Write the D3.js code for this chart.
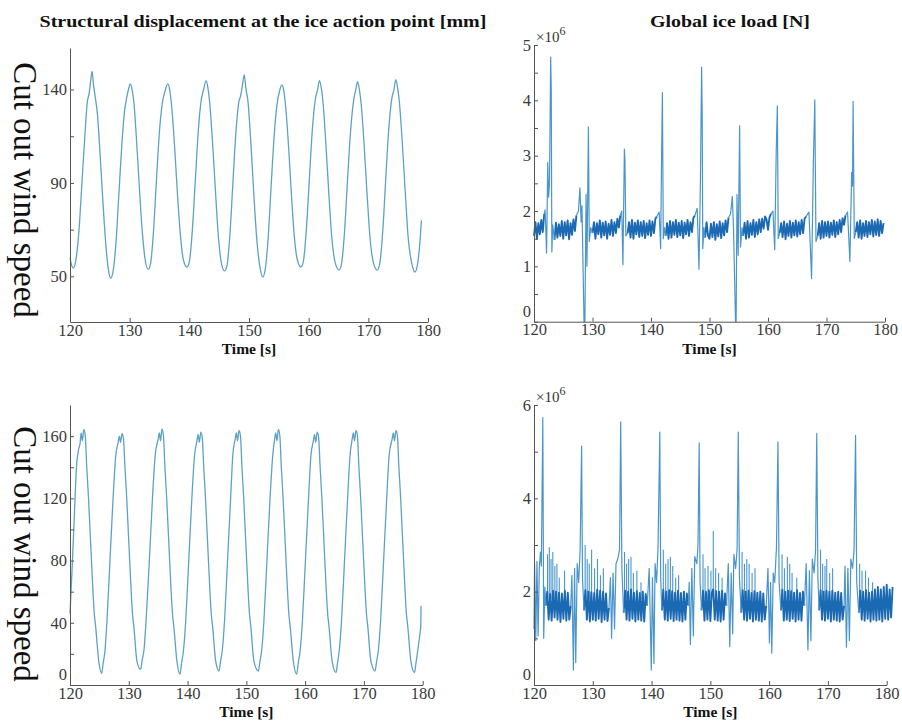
<!DOCTYPE html>
<html>
<head>
<meta charset="utf-8">
<script src="https://cdn.jsdelivr.net/npm/d3@7"></script>
<style>
  body { margin: 0; background: #fff; }
  svg { display: block; }
  text { font-family: "Liberation Serif", "Times New Roman", serif; }
</style>
</head>
<body>
<svg id="chart" width="902" height="721"></svg>
<script>
// ---- axis ticks / labels ----
const timeTicks = [120, 130, 140, 150, 160, 170, 180];
const dispTopTicks = [50, 72.5, 95, 117.5, 140];
const dispTopLabels = ["50", "", "90", "", "140"];
const dispBotTicks = [0, 20, 40, 60, 80, 100, 120, 140, 160];
const dispBotLabels = ["0", "", "40", "", "80", "", "120", "", "160"];
const loadTopTicks = [0, 0.5, 1, 1.5, 2, 2.5, 3, 3.5, 4, 4.5, 5];
const loadTopLabels = ["0", "", "1", "", "2", "", "3", "", "4", "", "5"];
const loadBotTicks = [0, 1, 2, 3, 4, 5, 6];
const loadBotLabels = ["0", "", "2", "", "4", "", "6"];

// ---- structural displacement [mm], [time s, value] ----
const dispTop = [
  [120.0,59],[120.3,55],[120.6,54],[121.0,58],[121.5,72],[122.0,95],[122.5,118],[122.9,134],[123.2,138],[123.5,145],[123.7,148.7],
  [123.95,142],[124.2,137],[124.6,128],[125.1,106],[125.6,82],[126.1,62],[126.5,52],[126.8,49],
  [127.2,52],[127.7,66],[128.2,90],[128.7,114],[129.2,131],[129.5,136],[129.8,140],[130.1,142.7],
  [130.4,140],[130.7,134],[131.1,118],[131.6,94],[132.1,72],[132.6,58],[133.1,53.4],
  [133.5,56],[134.0,72],[134.5,97],[135.0,120],[135.5,134],[135.9,139],[136.4,142.7],
  [136.7,140],[137.0,133],[137.5,114],[138.0,90],[138.5,70],[139.0,58],[139.6,54.5],
  [140.0,57],[140.5,72],[141.0,96],[141.5,120],[142.0,135],[142.4,140],[142.8,144.3],
  [143.1,141],[143.4,134],[143.9,114],[144.4,90],[144.9,68],[145.4,56],[145.9,52.6],
  [146.3,55],[146.8,70],[147.3,95],[147.8,119],[148.3,134],[148.6,137],[148.9,142],[149.2,147.2],
  [149.5,140],[149.8,135],[150.3,115],[150.8,90],[151.3,68],[151.8,55],[152.3,49.7],
  [152.7,53],[153.2,68],[153.7,93],[154.2,117],[154.7,133],[155.1,139],[155.5,142.2],
  [155.8,140],[156.1,133],[156.6,114],[157.1,90],[157.6,69],[158.1,58],[158.7,54.5],
  [159.1,57],[159.6,72],[160.1,96],[160.6,120],[161.1,135],[161.5,140],[161.8,144.3],
  [162.1,141],[162.4,134],[162.9,113],[163.4,89],[163.9,68],[164.5,56],[165.1,53],
  [165.5,56],[166.0,71],[166.5,96],[167.0,119],[167.5,134],[167.9,140],[168.2,143.8],
  [168.5,140],[168.8,133],[169.3,113],[169.8,89],[170.3,68],[170.9,56],[171.5,53],
  [171.9,56],[172.4,71],[172.9,96],[173.4,120],[173.9,135],[174.3,140],[174.6,144.8],
  [174.9,141],[175.2,134],[175.7,114],[176.2,90],[176.7,68],[177.3,56],[177.8,52],
  [178.2,55],[178.6,65],[178.9,77]
];

const dispBot = [
  [120.0,46],[120.3,70],[120.7,105],[121.1,140],[121.5,152],[121.7,155],[121.9,162],[122.1,157],[122.35,164.3],[122.6,160],
  [122.85,140],[123.15,120],[123.65,80],[124.15,45],[124.35,38],[124.9,15],[125.39,7.5],
  [125.64,14],[125.95,22],[126.3,42],[126.8,80],[127.3,118],[127.8,148],[128.2,156],[128.4,160],[128.6,156],[128.85,161.7],[129.1,158],
  [129.35,140],[129.65,120],[130.15,80],[130.65,45],[130.85,38],[131.4,15],[132.02,10],
  [132.27,16],[132.6,23],[132.95,42],[133.5,80],[134.0,118],[134.5,148],[135.0,158],[135.2,162],[135.4,157],[135.65,164.7],[135.9,160],
  [136.15,140],[136.45,120],[136.95,80],[137.45,45],[137.65,38],[138.2,15],[138.72,7],
  [138.97,14],[139.3,22],[139.7,42],[140.2,80],[140.7,118],[141.2,148],[141.6,157],[141.8,161],[142.0,156],[142.25,162.6],[142.5,159],
  [142.75,140],[143.05,120],[143.55,80],[144.05,45],[144.25,38],[144.8,15],[145.35,9],
  [145.6,15],[145.9,22],[146.3,42],[146.8,80],[147.3,118],[147.7,148],[148.1,158],[148.3,162],[148.5,157],[148.75,163.7],[149.0,160],
  [149.25,140],[149.55,120],[150.05,80],[150.55,45],[150.75,38],[151.3,15],[152.05,9],
  [152.3,15],[152.6,22],[153.0,42],[153.5,80],[154.0,118],[154.5,148],[154.8,158],[155.0,162],[155.2,157],[155.45,164.3],[155.7,160],
  [155.95,140],[156.25,120],[156.75,80],[157.25,45],[157.45,38],[158.0,15],[158.57,7],
  [158.82,14],[159.15,22],[159.55,42],[160.05,80],[160.55,118],[161.0,148],[161.4,157],[161.6,161],[161.8,156],[162.05,162.6],[162.3,159],
  [162.55,140],[162.85,120],[163.35,80],[163.85,45],[164.05,38],[164.6,15],[165.26,8],
  [165.5,14],[165.8,22],[166.2,42],[166.7,80],[167.2,118],[167.65,148],[168.0,158],[168.2,162],[168.4,157],[168.65,163.7],[168.9,160],
  [169.15,140],[169.45,120],[169.95,80],[170.45,45],[170.65,38],[171.2,15],[171.9,9],
  [172.15,15],[172.45,22],[172.85,42],[173.35,80],[173.85,118],[174.3,148],[174.8,158],[175.0,162],[175.2,157],[175.45,163.7],[175.7,160],
  [175.95,140],[176.25,120],[176.75,80],[177.25,45],[177.45,38],[178.0,15],[178.6,8],
  [178.85,14],[179.15,22],[179.5,32],[179.68,38],[179.72,51]
];

// ---- global ice load [x1e6 N] ----
// band samples every 0.25 s from 120 s, null where a spike event takes over
const bandStart = 120, bandStep = 0.25;
const loadTopBand = [
  1.55,1.80,1.50,1.78,1.58,1.84,1.62,1.95,null,null,null,null,null,null,1.48,1.79,1.52,1.76,1.55,1.82,
  1.50,1.80,1.56,1.83,1.49,1.78,1.57,1.85,1.64,1.92,null,null,null,null,null,null,null,null,null,null,
  1.60,1.80,1.50,1.78,1.58,1.83,1.52,1.79,1.56,1.81,1.50,1.77,1.57,1.84,1.55,1.80,1.60,1.86,1.70,1.92,
  null,null,null,null,1.60,1.80,1.52,1.84,1.50,1.79,1.58,1.83,1.53,1.80,1.55,1.82,1.51,1.78,1.57,1.83,
  1.55,1.81,1.60,1.86,1.90,null,null,null,null,null,1.55,1.78,1.50,1.82,1.52,1.80,1.57,1.84,1.53,1.79,
  1.56,1.82,1.51,1.79,1.58,1.84,1.55,1.80,1.62,1.88,1.92,null,null,null,null,null,null,1.52,1.80,1.55,
  1.50,1.77,1.53,1.80,1.48,1.76,1.54,1.81,1.51,1.78,1.56,1.83,1.62,1.88,null,null,null,null,null,null,
  null,null,null,1.55,1.79,1.50,1.82,1.52,1.78,1.57,1.84,1.53,1.80,1.58,1.85,1.62,1.86,1.68,1.90,1.85,
  1.66,1.88,1.95,null,null,null,null,null,1.60,1.78,1.53,1.81,1.49,1.77,1.55,1.82,1.52,1.79,1.56,1.83,
  1.54,1.80,1.58,1.84,1.60,1.86,1.90,null,null,null,null,null,null,null,1.55,1.78,1.50,1.82,1.52,1.80,
  1.55,1.81,1.52,1.79,1.57,1.83,1.53,1.80,1.58,1.84,1.62,1.87,1.75,1.92,null,null,null,null,null,null,
  1.62,1.80,1.52,1.83,1.50,1.78,1.55,1.82,1.53,1.80,1.58,1.84,1.54,1.81,1.57,1.85,1.55,1.82,1.60,1.78
];
const loadTopSpikes = [
  [[121.75,1.95],[121.9,2.02],[122.15,1.24],[122.35,2.88],[122.5,2.25],[122.65,2.5],[122.85,4.78],[122.95,4.2],[123.05,1.26],[123.2,1.75],[123.5,1.48]],
  [[127.25,1.92],[127.6,2.0],[127.85,2.42],[128.05,1.8],[128.2,2.1],[128.55,0],[128.7,0],[128.9,2.3],[129.05,1.0],[129.3,3.52],[129.45,1.45],[129.7,1.7],[130.0,1.6]],
  [[134.75,1.92],[135.0,2.0],[135.2,1.03],[135.45,3.12],[135.55,2.9],[135.7,1.55],[136.0,1.6]],
  [[141.0,1.9],[141.4,1.98],[141.65,1.32],[141.8,2.9],[141.95,4.14],[142.1,1.5],[142.3,1.7],[142.5,1.55]],
  [[147.5,1.92],[147.9,2.05],[148.2,0.95],[148.45,2.55],[148.65,4.6],[148.75,3.8],[148.85,1.32],[149.05,1.7],[149.25,1.52]],
  [[153.25,1.88],[153.6,1.95],[153.9,2.26],[154.1,1.7],[154.45,0],[154.55,0],[154.7,2.3],[154.9,1.2],[155.15,3.54],[155.3,1.35],[155.55,1.7],[155.75,1.55]],
  [[160.5,1.95],[160.85,2.0],[161.15,1.3],[161.4,3.05],[161.6,3.9],[161.75,1.5],[162.0,1.6]],
  [[166.5,1.9],[167.0,1.98],[167.45,0.78],[167.75,2.85],[168.0,4.01],[168.2,1.45],[168.5,1.55]],
  [[173.25,1.92],[173.6,1.98],[174.0,1.09],[174.3,2.7],[174.45,2.45],[174.55,3.98],[174.75,1.5],[175.0,1.62]]
];

const loadBotBand = [
  null,null,null,null,null,null,null,null,1.70,2.00,1.40,1.95,1.38,2.02,1.45,2.00,1.40,1.98,1.35,1.96,
  1.42,2.02,1.38,1.98,1.40,1.70,null,null,null,null,null,null,null,null,1.60,2.03,1.40,2.00,1.36,1.99,
  1.40,1.97,1.38,2.04,1.42,2.02,1.35,2.00,1.40,1.96,1.37,1.65,null,null,null,null,null,null,null,null,
  null,1.55,2.02,1.40,2.00,1.38,2.05,1.42,1.98,1.36,2.01,1.40,1.97,1.38,2.00,1.36,1.95,1.70,null,null,
  null,null,null,null,null,null,null,1.60,2.04,1.40,2.00,1.38,2.03,1.42,2.01,1.37,1.98,1.40,2.02,1.38,
  1.97,1.36,2.00,1.40,1.96,1.70,null,null,null,null,null,null,null,null,1.60,2.02,1.38,2.00,1.40,2.03,
  1.37,1.98,2.05,1.40,2.01,1.38,2.00,1.36,2.02,1.40,1.96,1.70,null,null,null,null,null,null,null,null,
  null,1.55,2.03,1.40,2.00,1.38,2.02,1.42,1.97,1.36,2.01,1.40,1.98,1.38,2.00,1.36,1.96,1.40,1.70,null,
  null,null,null,null,null,null,null,null,1.60,2.04,1.38,2.00,1.40,2.02,1.37,2.01,1.42,1.98,1.36,2.03,
  1.40,1.97,1.38,2.00,1.70,null,null,null,null,null,null,null,null,null,1.60,2.03,1.40,2.00,1.38,2.02,
  1.42,2.00,1.36,2.02,1.40,1.98,1.38,2.00,1.36,1.97,1.40,1.70,null,null,null,null,null,null,null,null,
  null,1.55,2.02,1.40,2.00,1.38,2.03,1.42,1.98,1.36,2.00,1.40,2.05,1.38,2.10,1.40,2.05,1.36,2.10,1.42,
  2.15,1.40,2.05,1.45,2.10
];
const loadBotSpikes = [
  [[120.0,1.2],[120.1,2.6],[120.3,0.95],[120.5,2.65],[120.7,1.05],[120.9,2.5],[121.1,2.85],[121.25,2.55],[121.5,5.73],[121.65,1.0],[121.85,2.1],[122.0,1.7]],
  [[126.25,1.7],[126.45,2.35],[126.7,0.32],[126.9,2.5],[127.1,0.48],[127.35,2.6],[127.6,2.2],[127.85,2.9],[128.1,5.12],[128.25,2.3],[128.5,1.6]],
  [[132.75,1.65],[133.0,2.3],[133.2,1.0],[133.45,2.4],[133.7,1.2],[133.95,2.6],[134.25,2.7],[134.55,2.9],[134.75,5.64],[134.95,2.5],[135.25,1.55]],
  [[139.25,1.7],[139.6,2.5],[139.95,0.32],[140.15,2.3],[140.4,0.46],[140.6,2.6],[140.85,2.2],[141.1,2.95],[141.4,5.42],[141.55,2.3],[141.75,1.6]],
  [[146.25,1.7],[146.4,2.2],[146.6,0.87],[146.85,2.5],[147.1,1.05],[147.35,2.75],[147.7,2.6],[147.9,3.0],[148.1,5.19],[148.25,2.2],[148.5,1.6]],
  [[152.75,1.7],[153.05,2.6],[153.3,0.82],[153.55,2.4],[153.8,1.1],[154.0,2.8],[154.3,2.5],[154.55,2.9],[154.75,5.42],[154.95,2.3],[155.25,1.55]],
  [[159.5,1.7],[159.8,2.5],[160.05,0.9],[160.25,2.2],[160.45,0.68],[160.7,2.4],[160.95,2.2],[161.25,2.95],[161.5,5.21],[161.7,2.2],[162.0,1.6]],
  [[166.0,1.7],[166.3,2.6],[166.6,0.75],[166.85,2.45],[167.1,0.95],[167.35,2.7],[167.65,2.4],[167.9,2.9],[168.1,5.39],[168.3,2.3],[168.5,1.6]],
  [[172.75,1.7],[172.9,2.55],[173.15,0.81],[173.4,2.5],[173.65,0.95],[173.9,2.7],[174.2,2.5],[174.45,2.9],[174.7,5.35],[174.9,2.2],[175.25,1.55]]
];
// smaller peaks rising out of the band after each main spike [time s, peak]
const loadBotPeaks = [
  [122.3,2.8],[122.6,2.95],[122.9,2.7],[123.2,2.85],[123.55,2.55],[123.9,2.6],[124.3,2.3],[125.2,2.45],
  [128.7,3.0],[129.05,2.7],[129.4,2.6],[129.8,2.9],[130.3,2.5],[130.8,2.7],[131.3,2.35],[131.8,2.5],
  [135.4,2.85],[135.75,2.6],[136.1,2.7],[136.5,2.75],[136.9,2.4],[137.5,2.45],[138.2,2.2],
  [142.0,2.9],[142.4,2.6],[142.8,2.7],[143.2,2.75],[143.6,2.55],[144.1,2.3],[144.6,2.35],
  [148.75,2.8],[149.1,2.5],[149.6,2.55],[150.1,2.45],[150.5,3.3],[150.9,2.5],[151.4,2.4],[152.0,2.3],
  [155.4,2.85],[155.8,2.6],[156.2,2.7],[156.6,2.6],[157.1,2.4],[157.6,2.5],
  [162.2,2.8],[162.6,2.5],[163.1,2.75],[163.5,2.6],[163.9,2.4],[164.7,2.3],
  [168.75,2.9],[169.1,2.6],[169.5,2.55],[169.8,2.7],[170.3,2.4],[170.8,2.5],
  [175.4,2.6],[175.8,2.45],[176.4,2.45],[176.9,2.3],[177.6,2.2]
];
const peakBase = 1.85;

const svg = d3.select("#chart");
svg.append("rect").attr("width", 902).attr("height", 721).attr("fill", "#fff");

const dispColor = "#5ea1c4";
const bandColor = "#1b69b3";
const spikeColor = "#4a96cc";
const serif = '"Liberation Serif", "Times New Roman", serif';

function toBand(values) {
  return values.map((v, i) => [bandStart + i * bandStep, v]);
}

// panel boxes
const panels = [
  { left: 70, right: 428, top: 48, bottom: 322, yDomain: [28, 160], ticks: dispTopTicks, labels: dispTopLabels,
    lines: [{ data: dispTop, color: dispColor, width: 1.3, curve: d3.curveMonotoneX }] },
  { left: 534, right: 885, top: 45, bottom: 321.7, yDomain: [0, 5], ticks: loadTopTicks, labels: loadTopLabels, exp: true,
    lines: [{ data: toBand(loadTopBand), color: bandColor, width: 1.9 }]
      .concat(loadTopSpikes.map(s => ({ data: s, color: spikeColor, width: 1.2 }))) },
  { left: 70, right: 422.7, top: 405, bottom: 685, yDomain: [0, 180], ticks: dispBotTicks, labels: dispBotLabels,
    lines: [{ data: dispBot, color: dispColor, width: 1.3, curve: d3.curveMonotoneX }] },
  { left: 534, right: 886.7, top: 405, bottom: 685, yDomain: [0, 6], ticks: loadBotTicks, labels: loadBotLabels, exp: true,
    peaks: loadBotPeaks,
    lines: [{ data: toBand(loadBotBand), color: bandColor, width: 1.9 }]
      .concat(loadBotSpikes.map(s => ({ data: s, color: spikeColor, width: 1.2 }))) }
];

function styleAxis(sel) {
  sel.attr("font-family", null).attr("font-size", null);
  sel.select(".domain").attr("stroke", "#555").attr("stroke-width", 1);
  sel.selectAll(".tick line").attr("stroke", "#555");
  sel.selectAll(".tick text").attr("fill", "#3a3a3a")
    .style("font-family", serif).style("font-size", "16.5px");
}

panels.forEach(p => {
  const x = d3.scaleLinear().domain([120, 180]).range([p.left, p.right]);
  const y = d3.scaleLinear().domain(p.yDomain).range([p.bottom, p.top]);
  const g = svg.append("g");

  if (p.peaks) {
    g.selectAll(".peak")
      .data(p.peaks)
      .enter()
      .append("line")
      .attr("class", "peak")
      .attr("x1", d => x(d[0]))
      .attr("x2", d => x(d[0]))
      .attr("y1", y(peakBase))
      .attr("y2", d => y(d[1]))
      .attr("stroke", spikeColor)
      .attr("stroke-width", 1.1);
  }

  p.lines.forEach(l => {
    const line = d3.line()
      .defined(d => d[1] != null)
      .x(d => x(d[0]))
      .y(d => y(d[1]))
      .curve(l.curve || d3.curveLinear);
    g.append("path")
      .attr("d", line(l.data))
      .attr("fill", "none")
      .attr("stroke", l.color)
      .attr("stroke-width", l.width)
      .attr("stroke-linejoin", "round");
  });

  g.append("g")
    .attr("transform", "translate(0," + p.bottom + ")")
    .call(d3.axisBottom(x).tickValues(timeTicks).tickSizeInner(-4).tickSizeOuter(0).tickPadding(2).tickFormat(d3.format("d")))
    .call(styleAxis);

  const yAxis = g.append("g")
    .attr("transform", "translate(" + p.left + ",0)")
    .call(d3.axisLeft(y).tickValues(p.ticks).tickSizeInner(-4).tickSizeOuter(0).tickPadding(3).tickFormat((d, i) => p.labels[i]))
    .call(styleAxis);
  // the zero label sits a little above the corner, as in the original
  yAxis.selectAll(".tick text").filter(d => d === 0).attr("dy", "-0.32em");

  g.append("text")
    .attr("x", (p.left + p.right) / 2)
    .attr("y", p.bottom + 32)
    .attr("text-anchor", "middle")
    .attr("font-weight", "bold")
    .attr("font-size", 15.5)
    .attr("fill", "#111")
    .text("Time [s]");

  if (p.exp) {
    const t = g.append("text")
      .attr("x", p.left + 2)
      .attr("y", p.top - 3)
      .attr("font-size", 15)
      .attr("fill", "#333");
    t.append("tspan").text("\u00d710");
    t.append("tspan").attr("dy", -7).attr("font-size", 12).text("6");
  }
});

// titles
svg.append("text")
  .attr("x", 263).attr("y", 27)
  .attr("text-anchor", "middle")
  .attr("font-weight", "bold")
  .attr("font-size", 17.5)
  .attr("textLength", 447)
  .attr("lengthAdjust", "spacingAndGlyphs")
  .attr("fill", "#111")
  .text("Structural displacement at the ice action point [mm]");

svg.append("text")
  .attr("x", 730).attr("y", 27)
  .attr("text-anchor", "middle")
  .attr("font-weight", "bold")
  .attr("font-size", 17.5)
  .attr("textLength", 160)
  .attr("lengthAdjust", "spacingAndGlyphs")
  .attr("fill", "#111")
  .text("Global ice load [N]");

// row labels
[190, 554].forEach(cy => {
  svg.append("text")
    .attr("transform", "translate(14," + cy + ") rotate(90)")
    .attr("text-anchor", "middle")
    .attr("font-size", 33)
    .attr("fill", "#111")
    .text("Cut out wind speed");
});
</script>
</body>
</html>
